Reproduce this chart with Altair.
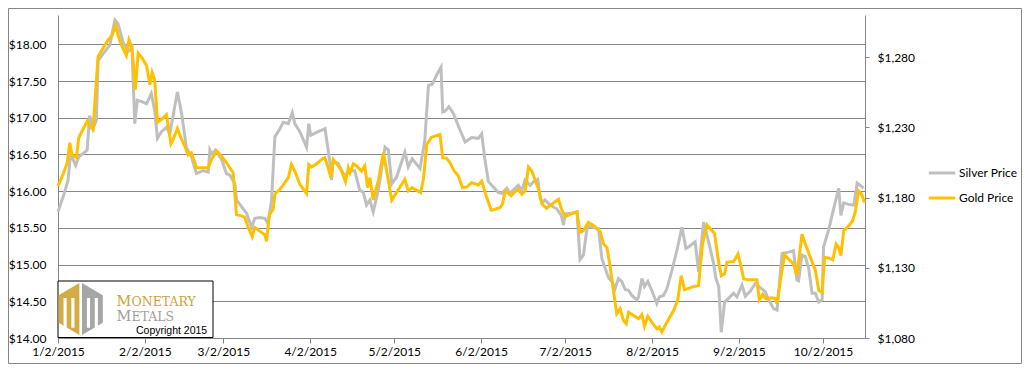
import altair as alt
import pandas as pd

# ---------------- data ----------------
# day offsets from 2 Jan 2015 and prices
silver_days = [0.0, 1.8, 3.6, 4.5, 6.3, 7.4, 8.9, 10.4, 11.3, 12.5, 13.7, 14.3, 16.1, 18.5, 20.3, 21.4, 23.2, 25.0, 26.4, 27.4,
               28.3, 30.0, 31.6, 33.3, 34.5, 35.5, 36.9, 38.7, 39.9, 42.6, 44.1, 45.8, 47.6, 49.4, 51.8, 53.6, 54.2, 54.8, 56.2, 58.3,
               60.1, 61.3, 63.1, 63.7, 65.5, 67.3, 69.1, 70.2, 72.0, 73.8, 75.0, 76.2, 77.4, 79.2, 80.4, 82.2, 83.6, 84.5, 86.3, 88.7,
               89.5, 90.2, 92.9, 95.3, 97.0, 97.6, 98.2, 100.0, 102.4, 103.6, 105.9, 107.7, 108.9, 110.1, 111.3, 112.5, 114.3, 116.7,
               117.9, 119.1, 120.8, 123.8, 125.0, 126.4, 129.2, 130.9, 132.2, 133.6, 135.1, 136.7, 137.3, 138.1, 139.5, 141.1,
               143.5, 145.3, 147.6, 150.0, 151.2, 152.4, 153.6, 154.8, 157.2, 158.4, 160.2, 161.3, 163.1, 164.3, 165.5, 166.7,
               168.5, 169.7, 171.2, 172.1, 172.9, 173.8, 175.6, 178.0, 179.6, 180.4, 181.0, 183.4, 185.2, 186.3, 187.5, 188.7,
               189.3, 192.9, 194.1, 195.9, 196.7, 197.7, 198.8, 200.0, 201.2, 202.4, 203.6, 204.8, 206.6, 207.2, 208.4, 209.3,
               210.5, 211.9, 213.7, 214.6, 216.1, 217.3, 219.1, 220.9, 222.7, 224.1, 225.0, 227.4, 228.6, 230.4, 232.2, 234.0,
               234.8, 235.8, 236.7, 237.9, 239.3, 241.1, 242.3, 244.1, 245.3, 247.1, 248.8, 251.2, 252.4, 253.6, 255.4, 256.6,
               258.4, 260.7, 262.5, 263.7, 264.3, 265.5, 266.7, 267.9, 269.1, 270.3, 271.5, 272.7, 273.2, 275.0, 276.8, 278.6,
               279.4, 280.4, 282.2, 284.0, 285.2, 286.3, 287.5]
silver_prices = [15.72, 15.92, 16.15, 16.51, 16.35, 16.47, 16.51, 16.56, 17.03, 16.85, 16.97, 17.78, 17.87, 17.99, 18.33, 18.28,
                 18.03, 17.90, 17.96, 16.92, 17.24, 17.22, 17.19, 17.33, 17.10, 16.72, 16.81, 16.87, 16.78, 17.35, 17.06, 16.60,
                 16.47, 16.24, 16.28, 16.26, 16.56, 16.51, 16.56, 16.44, 16.24, 16.22, 16.10, 15.88, 15.79, 15.70, 15.51, 15.63,
                 15.64, 15.63, 15.56, 15.88, 16.74, 16.85, 16.94, 16.92, 17.07, 16.92, 16.81, 16.60, 16.92, 16.76, 16.81, 16.85,
                 16.40, 16.15, 16.40, 16.38, 16.19, 16.28, 16.28, 16.01, 15.99, 15.81, 15.88, 15.72, 16.01, 16.60, 16.56, 16.10,
                 16.19, 16.53, 16.33, 16.44, 16.31, 16.69, 17.44, 17.46, 17.58, 17.69, 17.08, 17.09, 17.15, 17.06,
                 16.83, 16.67, 16.73, 16.72, 16.78, 16.42, 16.13, 16.08, 15.98, 15.97, 16.04, 15.97, 16.04, 16.08, 16.01, 16.15,
                 16.08, 16.13, 16.16, 15.90, 15.84, 15.88, 15.81, 15.76, 15.67, 15.54, 15.69, 15.70, 15.72, 15.07, 15.13, 15.47,
                 15.52, 15.49, 15.08, 14.88, 14.81, 14.77, 14.67, 14.81, 14.77, 14.66, 14.65, 14.58, 14.52, 14.56, 14.81, 14.70,
                 14.77, 14.65, 14.47, 14.56, 14.58, 14.67, 14.92, 15.20, 15.51, 15.22, 15.24, 15.31, 14.90, 15.58, 15.31, 15.01,
                 14.81, 14.70, 14.08, 14.49, 14.54, 14.61, 14.56, 14.72, 14.57, 14.64, 14.74, 14.67, 14.63, 14.52, 14.40, 14.38,
                 15.15, 15.17, 15.19, 14.79, 14.78, 15.13, 15.11, 14.95, 14.61, 14.61, 14.49, 14.52, 15.24, 15.47, 15.76, 16.04,
                 15.67, 15.84, 15.82, 15.81, 16.11, 16.08, 16.04]

gold_days = [0.0, 1.8, 3.3, 4.2, 5.0, 6.6, 7.4, 8.9, 10.4, 11.3, 12.5, 14.3, 16.1, 17.9, 19.3, 20.5, 21.4, 22.6, 24.4, 25.3,
             26.4, 27.6, 28.6, 30.0, 31.6, 32.8, 33.6, 34.5, 35.5, 36.9, 38.7, 40.3, 41.1, 42.6, 44.1, 45.5, 46.4, 47.6, 48.6, 49.4,
             51.8, 53.6, 54.8, 56.6, 58.3, 60.1, 61.3, 62.5, 63.7, 65.5, 66.7, 67.9, 69.3, 70.2, 72.6, 73.8, 74.4, 75.4, 76.8, 77.4,
             79.2, 81.0, 82.2, 83.3, 84.5, 86.3, 88.7, 89.5, 90.5, 92.3, 94.1, 95.2, 96.4, 97.4, 98.2, 99.8, 101.2, 102.6, 103.6,
             104.2, 105.4, 106.6, 108.3, 109.5, 110.5, 111.3, 112.5, 114.3, 116.1, 117.3, 119.1, 120.8, 123.8, 125.0, 126.4, 128.0,
             129.4, 130.4, 131.6, 133.3, 136.3, 137.3, 138.7, 139.9, 141.4,
             142.9, 144.3, 145.9, 147.6, 150.0, 151.2, 153.0, 154.6, 156.0, 157.8, 158.6, 159.6, 160.5, 161.7, 163.1, 164.3,
             165.5, 166.7, 167.9, 169.1, 170.3, 171.5, 172.7, 174.4, 176.2, 178.6, 179.8, 181.0, 182.8, 185.2, 186.3, 187.5,
             189.3, 191.7, 193.5, 194.7, 195.9, 197.1, 198.2, 199.4, 200.6, 201.8, 202.8, 203.6, 205.4, 207.2, 208.4, 209.3,
             210.5, 211.9, 213.7, 214.6, 215.5, 217.3, 219.7, 221.2, 222.4, 223.6, 226.2, 228.6, 230.0, 231.6, 234.3, 235.5,
             236.7, 237.9, 238.7, 241.1, 242.7, 243.8, 244.7, 246.5, 249.4, 250.3, 251.5, 252.7, 254.8, 256.0, 256.6, 257.8,
             259.3, 260.7, 262.5, 263.7, 265.5, 266.7, 268.5, 270.3, 271.5, 272.7, 273.6, 275.0, 276.5, 277.7, 278.6, 279.4,
             280.4, 282.2, 283.6, 284.6, 285.7, 286.7, 287.8]
gold_prices = [1188.3, 1196.5, 1204.8, 1219.0, 1210.7, 1208.4, 1222.6, 1228.5, 1234.4, 1230.8, 1228.5, 1280.5, 1286.4, 1292.3,
               1295.4, 1302.5, 1295.8, 1288.7, 1281.2, 1292.3, 1286.4, 1256.8, 1282.8, 1279.3, 1274.1, 1260.4, 1269.1, 1263.9,
               1233.7, 1235.6, 1239.1, 1218.3, 1221.4, 1229.2, 1221.4, 1215.5, 1210.3, 1211.9, 1206.0, 1201.3, 1201.3, 1201.3,
               1207.2, 1213.1, 1209.6, 1204.8, 1201.3, 1197.7, 1167.7, 1167.0, 1165.8, 1158.7, 1152.1, 1158.7, 1155.2, 1153.5,
               1148.8, 1167.7, 1171.7, 1182.4, 1185.9, 1190.6, 1194.2, 1203.6, 1198.9, 1189.5, 1182.8, 1203.6, 1201.7, 1204.1,
               1207.2, 1208.4, 1201.3, 1194.2, 1207.2, 1203.2, 1198.9, 1191.3, 1201.3, 1197.7, 1204.1, 1202.5, 1198.9, 1202.5,
               1187.1, 1194.2, 1178.3, 1191.8, 1211.9, 1198.9, 1178.1, 1183.5, 1193.0, 1184.7, 1187.1, 1185.2, 1183.5, 1193.0,
               1217.8, 1223.0, 1224.9, 1208.4, 1207.9, 1204.8, 1198.9,
               1195.4, 1187.1, 1187.6, 1190.6, 1189.0, 1191.8, 1180.0, 1171.0, 1171.7, 1172.9, 1175.3, 1184.7, 1183.5, 1181.2,
               1184.3, 1185.9, 1182.4, 1184.7, 1201.7, 1198.9, 1192.3, 1185.9, 1175.3, 1172.4, 1175.3, 1178.8, 1171.0, 1166.3,
               1168.2, 1169.8, 1155.2, 1156.4, 1162.3, 1159.2, 1155.7, 1146.9, 1144.5, 1130.4, 1113.8, 1097.3, 1100.8, 1092.5,
               1090.2, 1098.4, 1096.1, 1093.7, 1096.8, 1088.3, 1095.4, 1091.3, 1086.6, 1087.8, 1084.3, 1091.3, 1099.6, 1107.2,
               1124.4, 1114.3, 1116.2, 1117.4, 1146.9, 1160.6, 1154.5, 1137.4, 1124.4, 1125.6, 1133.9, 1134.4, 1139.8, 1130.4,
               1122.1, 1121.4, 1121.4, 1107.2, 1111.0, 1107.9, 1108.6, 1107.9, 1104.3, 1120.9, 1139.3, 1136.3, 1132.7, 1124.4,
               1154.0, 1146.9, 1137.4, 1128.0, 1113.8, 1112.6, 1137.4, 1137.0, 1135.6, 1146.9, 1144.5, 1138.6, 1156.4, 1159.9,
               1163.5, 1170.5, 1184.7, 1182.8, 1176.5]

series_names = ["Silver Price", "Gold Price"]
tick_dates = ["2015-01-02", "2015-02-02", "2015-03-02", "2015-04-02", "2015-05-02",
              "2015-06-02", "2015-07-02", "2015-08-02", "2015-09-02", "2015-10-02"]
x_range = ["2015-01-02", "2015-10-17"]
silver_ticks = [14.0, 14.5, 15.0, 15.5, 16.0, 16.5, 17.0, 17.5, 18.0]
silver_range = [14.0, 18.4]
gold_ticks = [1080, 1130, 1180, 1230, 1280]
gold_range = [1080, 1310]

# ---------------- styling ----------------
SILVER = "#BFBFBF"
GOLD = "#FFC000"
GRAY = "#868686"
FONT = "Lato"
W, H = 807, 323

base = pd.Timestamp("2015-01-02", tz="UTC")


def iso(days):
    return [(base + pd.Timedelta(days=d)).strftime("%Y-%m-%dT%H:%M:%SZ") for d in days]


def ms(s):
    return int(pd.Timestamp(s, tz="UTC").value // 10**6)


silver_df = pd.DataFrame({"date": iso(silver_days), "price": silver_prices, "series": series_names[0]})
gold_df = pd.DataFrame({"date": iso(gold_days), "price": gold_prices, "series": series_names[1]})

x_enc = alt.X(
    "date:T",
    scale=alt.Scale(type="utc", domain=[ms(d) for d in x_range]),
    axis=alt.Axis(values=[ms(d) for d in tick_dates],
                  labelExpr="utcFormat(datum.value, '%-m/%-d/%Y')",
                  grid=False, tickSize=5, labelPadding=3, title=None, labelFlush=False),
)
color_enc = alt.Color(
    "series:N",
    scale=alt.Scale(domain=series_names, range=[SILVER, GOLD]),
    legend=alt.Legend(title=None, orient="none", legendX=869, legendY=143, symbolType="stroke",
                      symbolStrokeWidth=3, symbolSize=700, labelFont=FONT, labelFontSize=12,
                      labelColor="black", rowPadding=4, labelOffset=2),
)

silver = alt.Chart(silver_df).mark_line(strokeWidth=3).encode(
    x=x_enc,
    y=alt.Y("price:Q", scale=alt.Scale(domain=silver_range, nice=False, zero=False),
            axis=alt.Axis(orient="left", values=silver_ticks, format="$.2f", grid=True, gridColor=GRAY,
                          tickSize=0, labelPadding=12, title=None)),
    color=color_enc,
)
gold = alt.Chart(gold_df).mark_line(strokeWidth=3).encode(
    x=x_enc,
    y=alt.Y("price:Q", scale=alt.Scale(domain=gold_range, nice=False, zero=False),
            axis=alt.Axis(orient="right", values=gold_ticks, format="$,.0f", grid=False,
                          tickSize=4, labelPadding=8, title=None)),
    color=color_enc,
)

one = pd.DataFrame({"k": [0]})

frame = alt.Chart(one).mark_rect(fillOpacity=0, stroke=GRAY, strokeWidth=1).encode(
    x=alt.value(-49.5), x2=alt.value(W + 156.5), y=alt.value(-6.5), y2=alt.value(H + 25.5))

logo_box = alt.Chart(one).mark_rect(fill="white", stroke="black", strokeWidth=1).encode(
    x=alt.value(0), x2=alt.value(155), y=alt.value(266), y2=alt.value(322.5))

hex_left = "M-0.05,-1 L-0.85,-0.53 L-0.85,0.53 L-0.05,1 Z"
hex_right = "M0.05,-1 L0.85,-0.53 L0.85,0.53 L0.05,1 Z"
bars = ("M-0.66,-0.42 L-0.54,-0.42 L-0.54,0.72 L-0.66,0.72 Z "
        "M-0.36,-0.42 L-0.24,-0.42 L-0.24,0.72 L-0.36,0.72 Z "
        "M0.24,-0.42 L0.36,-0.42 L0.36,0.72 L0.24,0.72 Z "
        "M0.54,-0.42 L0.66,-0.42 L0.66,0.72 L0.54,0.72 Z")


def glyph(path, color):
    return alt.Chart(one).mark_point(shape=path, filled=True, fill=color, strokeWidth=0, opacity=1,
                                     size=2704).encode(x=alt.value(22.7), y=alt.value(294))


def label(text, x, y, size, color, font="DejaVu Serif"):
    return alt.Chart(one).mark_text(text=text, font=font, fontSize=size, color=color, align="left",
                                    baseline="alphabetic").encode(x=alt.value(x), y=alt.value(y))


LOGO_GOLD = "#CCA43C"
LOGO_GRAY = "#A0A0A0"
logo = [
    logo_box,
    glyph(hex_left, "#D4AC45"),
    glyph(hex_right, "#A6A6A6"),
    glyph(bars, "white"),
    label("M", 58.4, 290.5, 14.5, LOGO_GOLD),
    label("ONETARY", 73.5, 290.5, 12.5, LOGO_GOLD),
    label("M", 58.4, 305.5, 14.5, LOGO_GRAY),
    label("ETALS", 73.5, 305.5, 12.5, LOGO_GRAY),
    label("Copyright 2015", 78, 319, 10.5, "black", font="Liberation Sans"),
]

chart = alt.layer(silver, gold, frame, *logo).resolve_scale(y="independent").properties(
    width=W, height=H,
    autosize=alt.AutoSizeParams(type="none"),
    padding={"left": 50, "top": 7, "right": 158, "bottom": 26},
).configure_view(stroke=None).configure_axis(
    labelFont=FONT, labelFontSize=12, labelColor="black", domainColor=GRAY, tickColor=GRAY,
    gridColor=GRAY, domainWidth=1, gridWidth=1,
)

chart.save("out.html", embed_options={"renderer": "svg", "actions": False})
